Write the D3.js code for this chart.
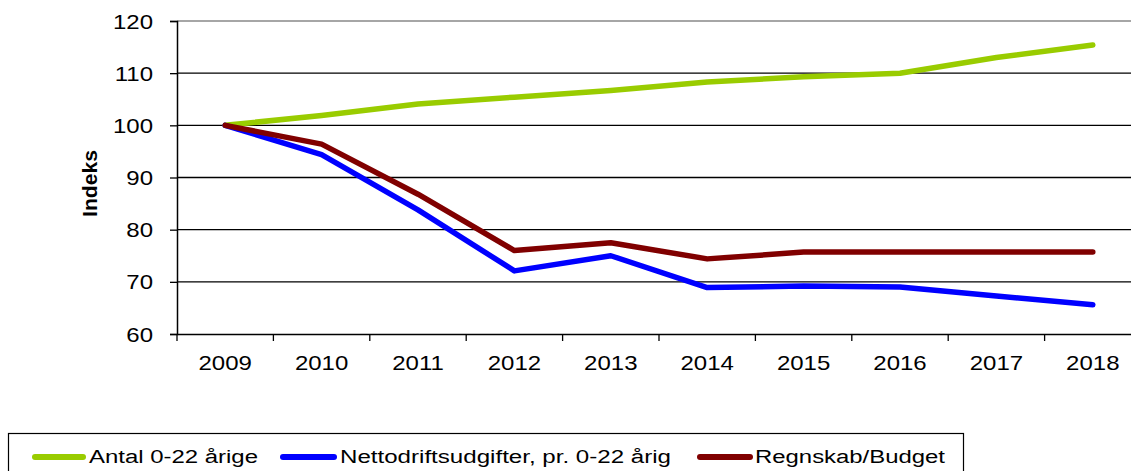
<!DOCTYPE html>
<html><head><meta charset="utf-8">
<script src="https://cdn.jsdelivr.net/npm/d3@7"></script>
<style>body{margin:0;background:#fff}svg{display:block}text{font-family:"Liberation Sans",Arial,sans-serif}</style>
</head><body><svg id="c" width="1131" height="471"></svg>
<script>
const years = ["2009","2010","2011","2012","2013","2014","2015","2016","2017","2018"];
const antal = [100,101.9,104.1,105.4,106.7,108.3,109.3,110.0,113.0,115.4];
const netto = [100,94.4,83.8,72.1,75.0,68.9,69.2,69.0,67.3,65.6];
const regnskab = [100,96.4,86.8,76.0,77.5,74.4,75.7,75.7,75.7,75.7];
const yTicks = [60,70,80,90,100,110,120];
const seriesNames = ["Antal 0-22 årige","Nettodriftsudgifter, pr. 0-22 årig","Regnskab/Budget"];
const colors = ["#99cc00","#0000ff","#800000"];

const svg = d3.select("#c");
const L=177, R=1141, T=21, B=334;
const x = d3.scaleBand().domain(years).range([L,R]);
const y = d3.scaleLinear().domain([60,120]).range([B,T]);

// gridlines
svg.append("g").selectAll("line").data(yTicks.filter(d=>d>60)).join("line")
  .attr("x1",L).attr("x2",R).attr("y1",d=>y(d)).attr("y2",d=>y(d))
  .attr("stroke",d=>d===120?"#888":"#000").attr("stroke-width",1.3);

// y axis
const ya = svg.append("g").attr("transform",`translate(${L},0)`)
  .call(d3.axisLeft(y).tickValues(yTicks).tickSize(7).tickPadding(0));
ya.select(".domain").attr("stroke","#000").attr("stroke-width",1.5);
ya.selectAll(".tick line").attr("stroke","#000").attr("stroke-width",1.3);
ya.selectAll("text").attr("x",null).attr("dy",null).attr("y",7)
  .attr("font-size",20).attr("fill","#000")
  .attr("transform","translate(-24,0) scale(1.2,1)");

// x axis
const xa = svg.append("g").attr("transform",`translate(0,${B})`)
  .call(d3.axisBottom(x).tickSize(0).tickPadding(0));
xa.select(".domain").attr("stroke","#000").attr("stroke-width",1.5);
xa.selectAll("text").attr("dy",null).attr("y",36).attr("font-size",20).attr("fill","#000")
  .attr("transform","scale(1.2,1)");
svg.append("g").selectAll("line").data(years.concat(["end"])).join("line")
  .attr("x1",(d,i)=>L+i*x.step()).attr("x2",(d,i)=>L+i*x.step())
  .attr("y1",B).attr("y2",B+7).attr("stroke","#000").attr("stroke-width",1.3);

// y label
svg.append("text").attr("transform","translate(97,183.5) rotate(-90)")
  .attr("text-anchor","middle").attr("font-size",20).attr("font-weight","bold")
  .attr("textLength",67).attr("lengthAdjust","spacingAndGlyphs").text("Indeks");

const line = d3.line().x((d,i)=>x(years[i])+x.bandwidth()/2).y(d=>y(d));
[antal,netto,regnskab].forEach((s,i)=>{
  svg.append("path").attr("d",line(s)).attr("fill","none").attr("stroke",colors[i])
    .attr("stroke-width",5.5).attr("stroke-linecap","round").attr("stroke-linejoin","round");
});

// legend
svg.append("rect").attr("x",8.5).attr("y",433.5).attr("width",955).attr("height",45)
  .attr("fill","#fff").attr("stroke","#000").attr("stroke-width",1.2);
const lx=[[32,86],[280,337],[697,753]];
const tx=[[89,169],[340,331],[755,190]];
seriesNames.forEach((n,i)=>{
  svg.append("line").attr("x1",lx[i][0]+3).attr("x2",lx[i][1]-3).attr("y1",457).attr("y2",457)
    .attr("stroke",colors[i]).attr("stroke-width",6).attr("stroke-linecap","round");
  svg.append("text").attr("x",tx[i][0]).attr("y",463).attr("font-size",18)
    .attr("textLength",tx[i][1]).attr("lengthAdjust","spacingAndGlyphs").text(n);
});
</script></body></html>
